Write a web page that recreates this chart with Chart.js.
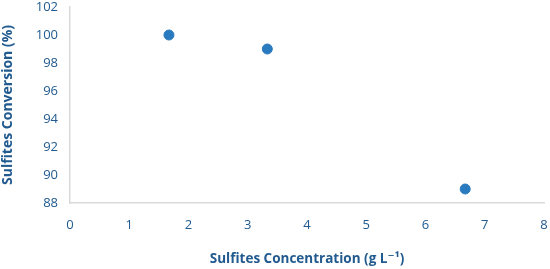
<!DOCTYPE html>
<html>
<head>
<meta charset="utf-8">
<script src="https://cdn.jsdelivr.net/npm/chart.js@4/dist/chart.umd.min.js"></script>
<style>
  html, body { margin: 0; padding: 0; background: #fff; }
  #wrap { width: 550px; height: 269px; }
</style>
</head>
<body>
<div id="wrap"><canvas id="chart"></canvas></div>
<script>
// sulfites concentration (g/L) vs conversion (%)
const concentration = [1.67, 3.33, 6.67];
const conversion = [100, 99, 89];

const textColor = '#215A8F';
const axisColor = '#d9d9d9';
const fontFamily = "'Open Sans', 'DejaVu Sans', sans-serif";

const points = concentration.map((x, i) => ({x: x, y: conversion[i]}));

new Chart(document.getElementById('chart').getContext('2d'), {
    type: 'scatter',
    data: {
        datasets: [{
            data: points,
            backgroundColor: '#2a7abf',
            borderColor: '#2a7abf',
            pointRadius: 5,
            pointHoverRadius: 5
        }]
    },
    options: {
        responsive: true,
        maintainAspectRatio: false,
        animation: false,
        layout: {
            padding: {left: 0, right: 5, top: 7, bottom: 0}
        },
        plugins: {
            legend: {display: false},
            tooltip: {enabled: false}
        },
        scales: {
            x: {
                type: 'linear',
                min: 0,
                max: 8,
                grid: {display: false, drawTicks: false},
                border: {display: true, color: axisColor, width: 1.5},
                ticks: {
                    stepSize: 1,
                    padding: 14,
                    color: textColor,
                    font: {family: fontFamily, size: 13}
                },
                title: {
                    display: true,
                    text: 'Sulfites Concentration (g L⁻¹)',
                    color: textColor,
                    font: {family: fontFamily, size: 13.5, weight: 'bold'},
                    padding: {top: 0, bottom: 2}
                },
                afterFit: function(scale) {
                    scale.height = 66;
                    scale.paddingLeft = 0;
                    scale.paddingRight = 0;
                }
            },
            y: {
                min: 88,
                max: 102,
                grid: {display: false, drawTicks: false},
                border: {display: true, color: axisColor, width: 1.5},
                ticks: {
                    stepSize: 2,
                    padding: 12,
                    color: textColor,
                    font: {family: fontFamily, size: 13}
                },
                title: {
                    display: true,
                    text: 'Sulfites Conversion (%)',
                    color: textColor,
                    font: {family: fontFamily, size: 14, weight: 'bold'},
                    padding: {top: 0, bottom: 0}
                },
                afterFit: function(scale) {
                    scale.width = 70;
                    scale.paddingTop = 0;
                    scale.paddingBottom = 0;
                }
            }
        }
    }
});
</script>
</body>
</html>
